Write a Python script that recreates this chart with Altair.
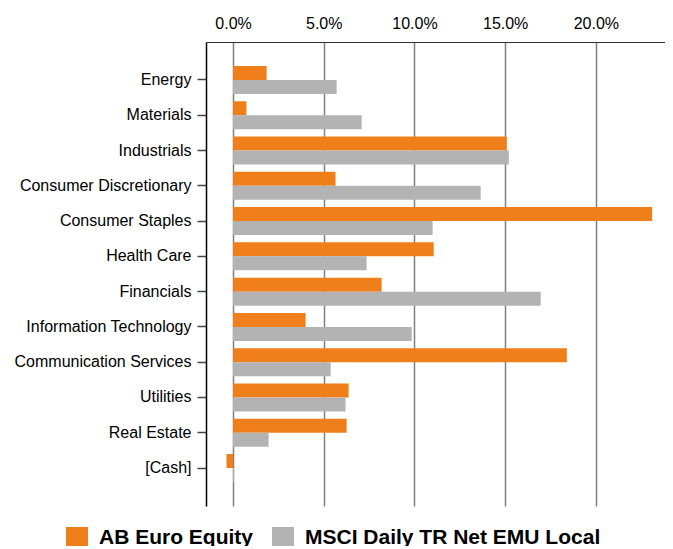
import altair as alt
import pandas as pd

categories = ["Energy", "Materials", "Industrials", "Consumer Discretionary",
              "Consumer Staples", "Health Care", "Financials",
              "Information Technology", "Communication Services",
              "Utilities", "Real Estate", "[Cash]"]
series = ["AB Euro Equity", "MSCI Daily TR Net EMU Local"]
fund = [1.85, 0.74, 15.09, 5.65, 23.1, 11.06, 8.19, 4.0, 18.4, 6.37, 6.26, -0.36]
bench = [5.71, 7.09, 15.2, 13.65, 11.0, 7.36, 16.96, 9.85, 5.38, 6.2, 1.96, 0.05]
colors = ["#EF7F1A", "#B3B3B3"]
x_ticks = [0, 5, 10, 15, 20]

rows = []
for c, a, b in zip(categories, fund, bench):
    rows.append({"Sector": c, "Series": series[0], "Value": a})
    rows.append({"Sector": c, "Series": series[1], "Value": b})
df = pd.DataFrame(rows)

font = "Liberation Sans"

chart = alt.Chart(df).mark_bar().encode(
    y=alt.Y("Sector:N", sort=categories,
            scale=alt.Scale(paddingInner=0.206, paddingOuter=0.68),
            axis=alt.Axis(title=None, labelFontSize=16, labelFont=font,
                          labelColor="#000000", labelPadding=6,
                          tickSize=9, tickColor="#444444", tickWidth=1.5,
                          domainColor="#000000", domainWidth=1.5,
                          grid=False)),
    yOffset=alt.YOffset("Series:N", sort=series),
    x=alt.X("Value:Q",
            scale=alt.Scale(domain=[-1.49, 23.81], nice=False, zero=False),
            axis=alt.Axis(orient="top", title=None, values=x_ticks,
                          labelExpr="format(datum.value, '.1f') + '%'",
                          labelFontSize=16, labelFont=font, labelColor="#000000",
                          labelPadding=11, ticks=False,
                          domainColor="#333333", domainWidth=1.2,
                          grid=True, gridColor="#808080", gridWidth=1.5)),
    color=alt.Color("Series:N", sort=series,
                    scale=alt.Scale(domain=series, range=colors),
                    legend=alt.Legend(title=None, orient="none",
                                      legendX=-140, legendY=485,
                                      direction="horizontal",
                                      symbolType="square", symbolSize=484,
                                      symbolStrokeWidth=0,
                                      labelFontSize=21, labelFontWeight="bold",
                                      labelFont=font, labelColor="#000000",
                                      labelOffset=11, columnPadding=18,
                                      labelLimit=400)),
).properties(
    width=459, height=464,
    autosize=alt.AutoSizeParams(type="none"),
    padding={"left": 198, "top": 34, "right": 0, "bottom": 40},
).configure_view(stroke=None)

chart.save("out.html", embed_options={"renderer": "svg", "actions": False})
